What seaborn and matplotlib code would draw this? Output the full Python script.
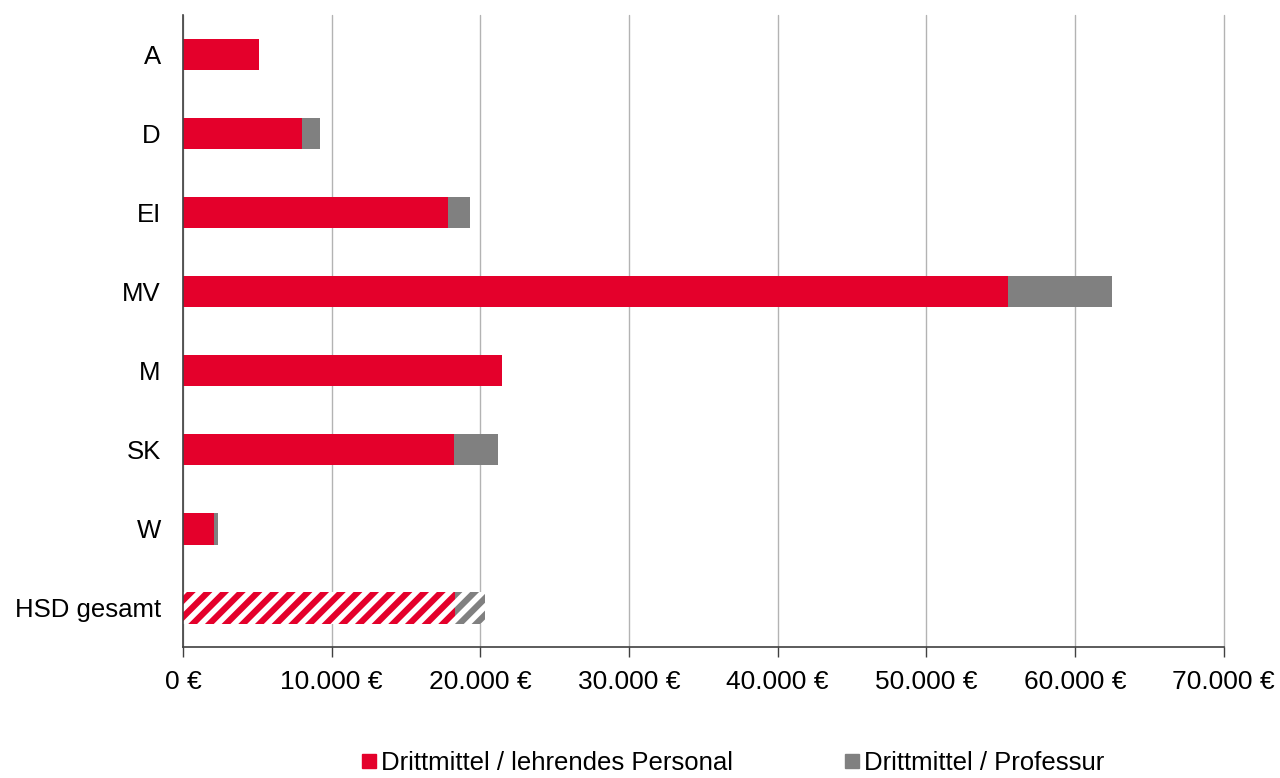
import numpy as np
import pandas as pd
import matplotlib
matplotlib.use("Agg")
import matplotlib.pyplot as plt
import seaborn as sns
from matplotlib.ticker import FuncFormatter, FixedLocator

# values
categories = ["A", "D", "EI", "MV", "M", "SK", "W", "HSD gesamt"]
lehrendes = [5120, 7990, 17790, 55460, 21430, 18210, 2050, 18270]
professur = [5120, 9200, 19300, 62520, 21430, 21180, 2370, 20290]

red = "#e4002b"
grey = "#808080"

df = pd.DataFrame({"cat": categories, "lehrend": lehrendes, "prof": professur})

sns.set_style("white")
plt.rcParams["font.family"] = ["Liberation Sans", "DejaVu Sans"]
plt.rcParams["hatch.linewidth"] = 4.5

fig, ax = plt.subplots(figsize=(12.8, 7.78), dpi=100)
fig.subplots_adjust(left=0.143, right=0.956, top=0.981, bottom=0.168)

# grey total first, red part drawn over it
sns.barplot(data=df, x="prof", y="cat", color=grey, width=0.4, ax=ax, saturation=1)
sns.barplot(data=df, x="lehrend", y="cat", color=red, width=0.4, ax=ax, saturation=1)

n = len(categories)
grey_bars = ax.patches[:n]
red_bars = ax.patches[n:2 * n]
for p in ax.patches:
    p.set_linewidth(0)

# hatched bar for HSD gesamt
gb = grey_bars[-1]
gb.set_facecolor("white")
gb.set_edgecolor(grey)
gb.set_hatch("//")
rb = red_bars[-1]
rb.set_facecolor("white")
rb.set_edgecolor(red)
rb.set_hatch("//")

ax.set_xlim(0, 70000)
ax.set_ylim(n - 0.5, -0.5)
ax.set_xlabel("")
ax.set_ylabel("")
ax.xaxis.set_major_locator(FixedLocator(np.arange(0, 70001, 10000)))
ax.xaxis.set_major_formatter(FuncFormatter(lambda v, _: f"{int(v):,} €".replace(",", ".")))
ax.yaxis.set_minor_locator(FixedLocator(np.arange(-0.5, n, 1)))
ax.tick_params(axis="y", which="major", length=0, pad=16, labelsize=18.5, labelcolor="black")
ax.tick_params(axis="y", which="minor", length=7, width=1, color="#404040", direction="out")
ax.tick_params(axis="x", which="major", length=7, width=1, color="#404040", direction="out",
               labelsize=19, pad=9, bottom=True, labelcolor="black")
ax.grid(axis="x", color="#b3b3b3", linewidth=1)
for gl in ax.get_xgridlines():
    gl.set_clip_on(False)
ax.set_axisbelow(True)
for s in ["top", "right"]:
    ax.spines[s].set_visible(False)
for s in ["left", "bottom"]:
    ax.spines[s].set_color("#404040")
    ax.spines[s].set_linewidth(1.2)

handles = [plt.Line2D([], [], marker="s", linestyle="", markersize=9.5, color=red),
           plt.Line2D([], [], marker="s", linestyle="", markersize=9.5, color=grey)]
fig.legend(handles, ["Drittmittel / lehrendes Personal", "Drittmittel / Professur"],
           loc="lower center", bbox_to_anchor=(0.573, -0.026), ncol=2, frameon=False,
           fontsize=18.5, handlelength=0.5, handletextpad=0.2, columnspacing=4.4,
           labelcolor="black")

plt.savefig("out.png", dpi=100)
